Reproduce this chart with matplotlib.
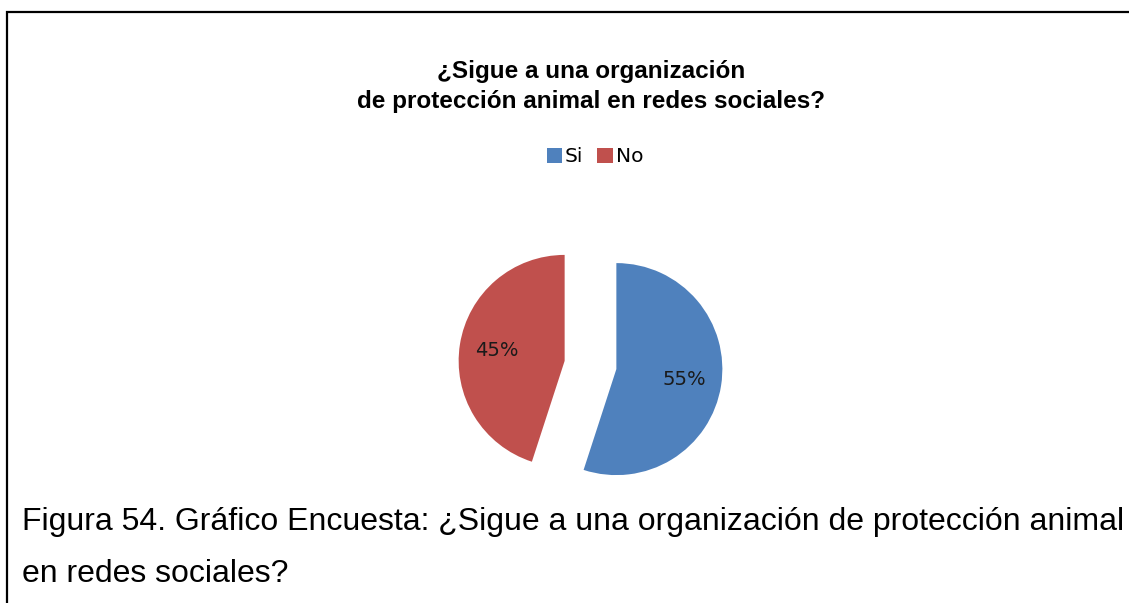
import matplotlib.pyplot as plt
from matplotlib.lines import Line2D

# survey answers
categories = ['Si', 'No']
shares = [55, 45]
colors = ['#4F81BD', '#C0504D']

title_lines = ['¿Sigue a una organización', 'de protección animal en redes sociales?']
caption_lines = ['Figura 54. Gráfico Encuesta: ¿Sigue a una organización de protección animal',
                 'en redes sociales?']

W, H = 1129, 603
fig = plt.figure(figsize=(W / 100, H / 100), dpi=100)


def fx(x):
    return x / W


def fy(y):
    return 1 - y / H


# chart frame (only left and top edges fall inside the page crop)
fig.add_artist(Line2D([fx(7), fx(7), 1.0], [0.0, fy(12), fy(12)],
                      color='black', lw=1.6, solid_joinstyle='miter'))

# pie axes: 400x400 px box centred on the pie, radius 1 == 106 px
cx, cy, r = 590.5, 365, 106
half = 200
ax = fig.add_axes([fx(cx - half), fy(cy + half), 2 * half / W, 2 * half / H])
wedges, texts, autotexts = ax.pie(
    shares, colors=colors, startangle=90, counterclock=False,
    explode=[0.247, 0.247], autopct='%d%%', pctdistance=0.65,
    textprops=dict(fontsize=14, color='#1a1a1a'))
ax.set_xlim(-half / r, half / r)
ax.set_ylim(-half / r, half / r)
ax.set_aspect('equal')
ax.axis('off')

# two-line bold title
for line, base in zip(title_lines, [78, 108]):
    fig.text(fx(591), fy(base), line, ha='center', va='baseline', fontsize=17.5,
             fontweight='bold', family='Liberation Sans')

fig.legend(wedges, categories, loc='center', bbox_to_anchor=(fx(595), fy(157)),
           ncol=2, frameon=False, fontsize=14.5, handlelength=0.75,
           handleheight=0.75, handletextpad=0.15, columnspacing=0.7,
           borderpad=0)

# figure caption from the document text
for line, base in zip(caption_lines, [530, 582]):
    fig.text(fx(22), fy(base), line, ha='left', va='baseline', fontsize=23,
             family='Liberation Sans')

fig.savefig('out.png', dpi=100, facecolor='white')
